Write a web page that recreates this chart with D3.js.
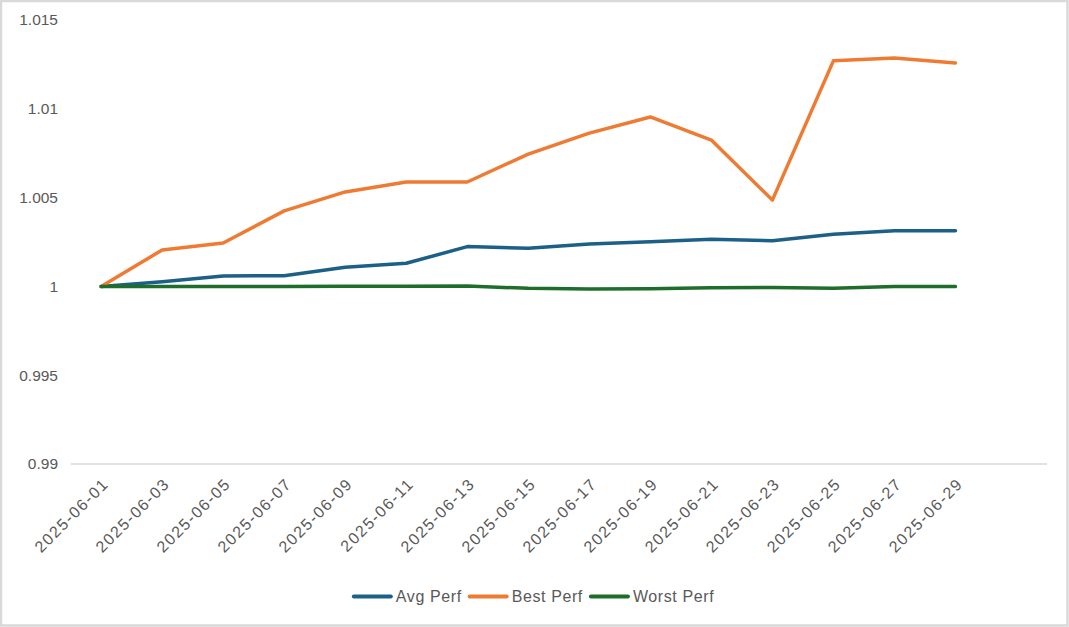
<!DOCTYPE html>
<html>
<head>
<meta charset="utf-8">
<script src="https://cdn.jsdelivr.net/npm/d3@7/dist/d3.min.js"></script>
<style>
  html, body { margin: 0; padding: 0; background: #fff; }
  svg { display: block; }
  text { font-family: "Liberation Sans", Arial, sans-serif; fill: #595959; }
</style>
</head>
<body>
<svg id="chart" width="1069" height="627"></svg>
<script>
const dates = ["2025-06-01","2025-06-03","2025-06-05","2025-06-07","2025-06-09","2025-06-11","2025-06-13","2025-06-15","2025-06-17","2025-06-19","2025-06-21","2025-06-23","2025-06-25","2025-06-27","2025-06-29"];
const avgPerf   = [1.0000, 1.00026, 1.00059, 1.0006, 1.00108, 1.0013, 1.00224, 1.00215, 1.00239, 1.00252, 1.00265, 1.00257, 1.00293, 1.00314, 1.00314];
const bestPerf  = [1.0000, 1.00205, 1.00244, 1.00425, 1.00532, 1.00588, 1.00588, 1.00745, 1.00863, 1.00954, 1.00824, 1.00486, 1.0127, 1.01286, 1.01258];
const worstPerf = [1.0000, 0.99999, 1.0000, 0.99999, 1.00001, 1.00001, 1.00002, 0.99989, 0.99985, 0.99987, 0.99993, 0.99994, 0.99989, 1.0000, 1.0000];
const yTicks = [0.99, 0.995, 1, 1.005, 1.01, 1.015];
const yTickLabels = ["0.99", "0.995", "1", "1.005", "1.01", "1.015"];
const seriesNames = ["Avg Perf", "Best Perf", "Worst Perf"];
const seriesColors = ["#1c5f87", "#ef7b33", "#1d6e2a"];

const svg = d3.select("#chart");
const W = 1069, H = 627;

// outer border
svg.append("rect").attr("x", 1).attr("y", 1).attr("width", W - 2.5).attr("height", H - 2.5)
  .attr("fill", "#fff").attr("stroke", "#d9d9d9").attr("stroke-width", 2.5);

const plotL = 70.6, plotR = 1047, plotT = 20, plotB = 464;
const x = d3.scaleLinear().domain([-0.5, dates.length + 0.5]).range([plotL, plotR]);
const y = d3.scaleLinear().domain([0.99, 1.015]).range([plotB, plotT]);

// baseline gridline
svg.append("line").attr("x1", plotL).attr("x2", plotR).attr("y1", y(0.99)).attr("y2", y(0.99))
  .attr("stroke", "#d9d9d9").attr("stroke-width", 1.5);

// y axis labels
const yAxis = d3.axisLeft(y).tickValues(yTicks).tickFormat((d, i) => yTickLabels[i]).tickSize(0).tickPadding(0);
const gy = svg.append("g").attr("transform", "translate(58,0)").call(yAxis);
gy.select(".domain").remove();
gy.selectAll("text").attr("font-size", 15.5).attr("fill", "#595959")
  .style("font-family", '"Liberation Sans", Arial, sans-serif');

// x axis labels
const xAxis = d3.axisBottom(x).tickValues(d3.range(dates.length)).tickFormat(i => dates[i]).tickSize(0);
const gx = svg.append("g").attr("transform", `translate(0,${plotB})`).call(xAxis);
gx.select(".domain").remove();
gx.selectAll("text")
  .attr("font-size", 16).attr("fill", "#595959")
  .style("font-family", '"Liberation Sans", Arial, sans-serif')
  .style("letter-spacing", "1.5px")
  .attr("text-anchor", "end")
  .attr("dy", null).attr("y", 0)
  .attr("transform", "translate(8,21) rotate(-45)");

// lines
const data = [avgPerf, bestPerf, worstPerf];
const line = d3.line().x((d, i) => x(i)).y(d => y(d));
data.forEach((vals, k) => {
  svg.append("path").datum(vals).attr("d", line)
    .attr("fill", "none").attr("stroke", seriesColors[k]).attr("stroke-width", 3.5)
    .attr("stroke-linejoin", "round").attr("stroke-linecap", "round");
});

// legend
const leg = svg.append("g");
let cx = 0;
seriesNames.forEach((name, k) => {
  const g = leg.append("g");
  g.append("line").attr("x1", 2).attr("x2", 39).attr("y1", 0).attr("y2", 0)
    .attr("stroke", seriesColors[k]).attr("stroke-width", 4).attr("stroke-linecap", "round");
  const t = g.append("text").attr("x", 44).attr("y", 5.5).attr("font-size", 16)
    .style("letter-spacing", "0.6px").text(name);
  const w = 44 + t.node().getComputedTextLength();
  g.attr("transform", `translate(${cx},0)`);
  cx += w + 6;
});
const totalW = cx - 6;
leg.attr("transform", `translate(${533 - totalW / 2},596.5)`);
</script>
</body>
</html>
